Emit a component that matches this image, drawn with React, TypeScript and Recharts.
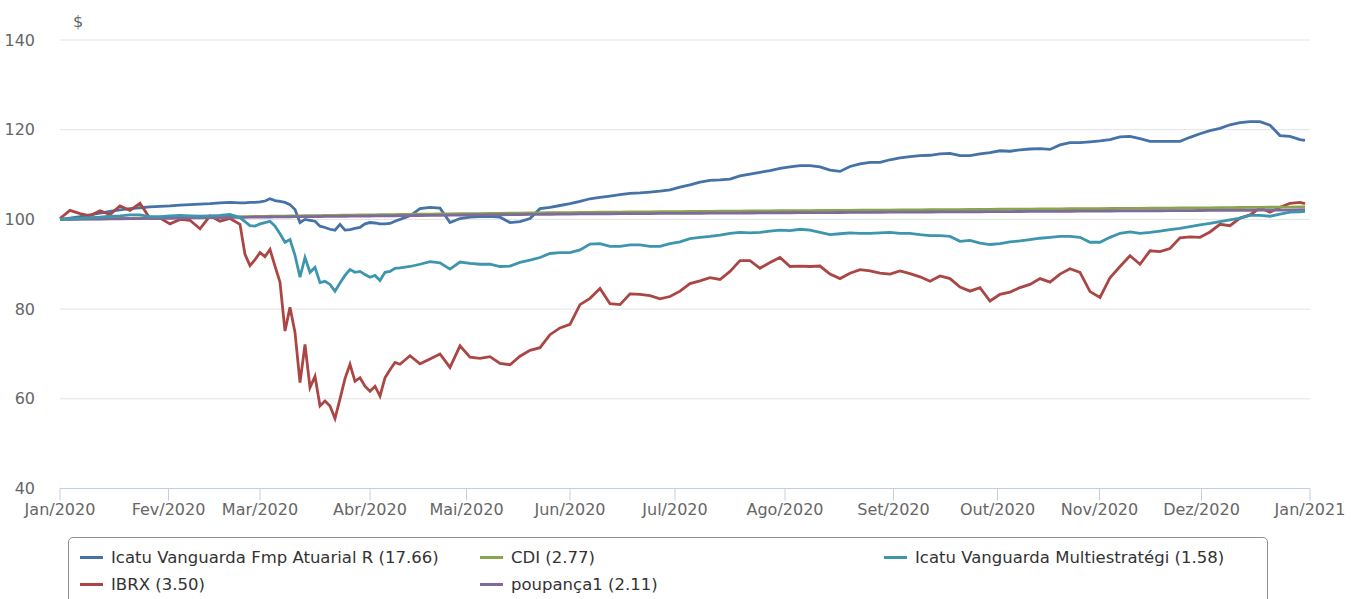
import React from "react";
import { LineChart, Line, XAxis, YAxis, CartesianGrid } from "recharts";

// eixo ordinal: posição = dia útil do ano (2020)
const dias = [
  0, 2, 4, 6, 8, 10, 12, 14, 16, 18, 20, 22, 24, 26, 28, 30, 32, 34,
  36, 37, 38, 39, 40, 41, 42, 43, 44, 45, 46, 47, 48, 49, 50, 51, 52, 53, 54, 55, 56, 57, 58, 59, 60, 61, 62, 63, 64, 65, 66, 67, 68,
  70, 72, 74, 76, 78, 80, 82, 84, 86, 88, 90, 92, 94, 96, 98, 100, 102, 104, 106, 108,
  110, 112, 114, 116, 118, 120, 122, 124, 126, 128, 130, 132, 134, 136, 138, 140, 142, 144, 146, 148,
  150, 152, 154, 156, 158, 160, 162, 164, 166, 168, 170, 172, 174, 176, 178, 180, 182, 184, 186, 188,
  190, 192, 194, 196, 198, 200, 202, 204, 206, 208, 210, 212, 214, 216, 218, 220, 222, 224, 226, 228,
  230, 232, 234, 236, 238, 240, 242, 244, 246, 248, 249,
];

const atuarial = [
  100.0, 100.3, 100.6, 101.0, 101.4, 101.8, 102.1, 102.4, 102.6, 102.8, 102.9, 103.0, 103.2, 103.3, 103.4, 103.5, 103.7, 103.8,
  103.7, 103.7, 103.8, 103.8, 103.9, 104.1, 104.6, 104.2, 104.0, 103.8, 103.3, 102.2, 99.3, 100.0, 99.8, 99.6, 98.5, 98.2, 97.8,
  97.6, 98.9, 97.6, 97.7, 98.0, 98.2, 99.0, 99.3, 99.2, 99.0, 99.0, 99.1, 99.6, 100.0,
  100.8, 102.4, 102.7, 102.5, 99.3,
  100.2, 100.5, 100.6, 100.7, 100.5, 99.3, 99.5, 100.2, 102.4, 102.7,
  103.1, 103.5, 104.0, 104.6, 104.9, 105.2, 105.5, 105.8, 105.9, 106.1,
  106.3, 106.6, 107.2, 107.7, 108.3, 108.7, 108.8, 109.0, 109.7, 110.1,
  110.5, 110.9, 111.4, 111.7, 112.0, 112.0, 111.7, 111.0, 110.7, 111.8,
  112.4, 112.7, 112.7, 113.3, 113.7, 114.0, 114.2, 114.3, 114.6, 114.7,
  114.2, 114.2, 114.6, 114.9, 115.3, 115.2, 115.5, 115.7, 115.8, 115.6,
  116.6, 117.1, 117.1, 117.3, 117.5, 117.8, 118.4, 118.5, 118.0, 117.4,
  117.4, 117.4, 117.4, 118.3, 119.1, 119.8, 120.3, 121.1, 121.6, 121.8,
  121.8, 121.0, 118.7, 118.5, 117.8, 117.6,
];

const ibrx = [
  100.2, 102.0, 101.3, 100.8, 101.9, 101.1, 103.0, 102.0, 103.6, 100.2, 100.3, 99.0, 100.0, 99.8, 97.9, 100.8, 99.6, 100.2,
  98.9, 92.2, 89.7, 91.0, 92.6, 91.7, 93.3, 89.6, 86.0, 75.1, 80.4, 74.8, 63.6, 72.1, 62.5, 65.0, 58.4, 59.5, 58.4,
  55.6, 60.0, 64.5, 67.7, 63.9, 64.7, 62.8, 61.7, 62.8, 60.6, 64.7, 66.5, 68.1, 67.7,
  69.6, 67.8, 68.9, 70.0, 67.0,
  71.8, 69.3, 69.0, 69.4, 67.9, 67.6, 69.5, 70.8, 71.4, 74.3,
  75.8, 76.6, 81.0, 82.4, 84.6, 81.2, 81.0, 83.4, 83.3, 83.0,
  82.3, 82.8, 84.0, 85.7, 86.3, 87.0, 86.6, 88.4, 90.8, 90.8,
  89.1, 90.4, 91.5, 89.5, 89.6, 89.5, 89.6, 87.8, 86.8, 88.0,
  88.8, 88.5, 88.0, 87.8, 88.5, 87.9, 87.2, 86.2, 87.4, 86.8,
  84.9, 84.0, 84.8, 81.8, 83.3, 83.8, 84.8, 85.5, 86.8, 86.0,
  87.8, 89.0, 88.2, 83.9, 82.6, 87.0, 89.5, 91.9, 90.0, 93.0,
  92.8, 93.5, 95.9, 96.1, 96.0, 97.2, 98.9, 98.6, 100.3, 101.0,
  102.6, 101.6, 102.7, 103.6, 103.8, 103.5,
];

const cdi = [
  100.0, 100.03, 100.07, 100.1, 100.14, 100.17, 100.21, 100.24, 100.28, 100.31, 100.35, 100.38, 100.41, 100.44, 100.48, 100.51, 100.54, 100.57,
  100.61, 100.62, 100.64, 100.66, 100.67, 100.69, 100.7, 100.72, 100.73, 100.75, 100.76, 100.78, 100.79, 100.81, 100.82, 100.84, 100.85,
  100.87, 100.88, 100.9, 100.92, 100.93, 100.95, 100.96, 100.98, 100.99, 101.01, 101.02, 101.04, 101.05, 101.06, 101.08, 101.09,
  101.12, 101.15, 101.18, 101.21, 101.23,
  101.26, 101.29, 101.31, 101.34, 101.36, 101.39, 101.41, 101.43, 101.46, 101.48,
  101.51, 101.53, 101.55, 101.57, 101.59, 101.61, 101.63, 101.65, 101.67, 101.69,
  101.71, 101.73, 101.75, 101.77, 101.78, 101.8, 101.82, 101.84, 101.85, 101.87,
  101.89, 101.91, 101.93, 101.94, 101.96, 101.97, 101.99, 102.0, 102.02, 102.03,
  102.05, 102.06, 102.08, 102.09, 102.11, 102.12, 102.14, 102.15, 102.17, 102.18,
  102.2, 102.21, 102.23, 102.24, 102.26, 102.28, 102.29, 102.31, 102.32, 102.34,
  102.35, 102.37, 102.38, 102.4, 102.42, 102.43, 102.45, 102.46, 102.48, 102.49,
  102.51, 102.52, 102.54, 102.55, 102.57, 102.59, 102.61, 102.63, 102.65, 102.67,
  102.69, 102.71, 102.73, 102.75, 102.76, 102.77,
];

const poupanca = [
  100.0, 100.02, 100.05, 100.07, 100.09, 100.12, 100.14, 100.17, 100.19, 100.21, 100.24, 100.26, 100.29, 100.32, 100.35, 100.38, 100.4, 100.43,
  100.46, 100.47, 100.49, 100.5, 100.52, 100.53, 100.54, 100.55, 100.56, 100.57, 100.58, 100.6, 100.61, 100.62, 100.63, 100.64, 100.65,
  100.66, 100.67, 100.68, 100.69, 100.7, 100.72, 100.73, 100.74, 100.75, 100.76, 100.77, 100.78, 100.79, 100.8, 100.81, 100.83,
  100.85, 100.87, 100.89, 100.91, 100.94,
  100.96, 100.98, 101.0, 101.02, 101.04, 101.06, 101.08, 101.11, 101.13, 101.15,
  101.17, 101.19, 101.21, 101.22, 101.24, 101.25, 101.27, 101.28, 101.3, 101.31,
  101.33, 101.34, 101.35, 101.36, 101.37, 101.38, 101.4, 101.41, 101.42, 101.43,
  101.44, 101.45, 101.47, 101.48, 101.49, 101.5, 101.52, 101.53, 101.54, 101.55,
  101.56, 101.58, 101.59, 101.6, 101.61, 101.62, 101.63, 101.65, 101.66, 101.67,
  101.68, 101.7, 101.71, 101.72, 101.74, 101.75, 101.76, 101.77, 101.78, 101.8,
  101.81, 101.82, 101.83, 101.84, 101.86, 101.87, 101.88, 101.89, 101.9, 101.92,
  101.93, 101.94, 101.95, 101.96, 101.98, 101.99, 102.0, 102.02, 102.03, 102.04,
  102.06, 102.07, 102.08, 102.09, 102.1, 102.11,
];

const multiestrategia = [
  100.0, 100.1, 100.2, 100.4, 100.5, 100.7, 100.8, 101.0, 101.0, 100.6, 100.6, 100.8, 100.9, 100.8, 100.7, 100.8, 100.9, 101.1,
  100.4, 99.5, 98.6, 98.5, 99.0, 99.3, 99.6, 98.5, 96.8, 94.9, 95.5, 92.0, 87.1, 91.5, 88.2, 89.3, 85.9, 86.2, 85.5,
  84.0, 85.8, 87.5, 88.8, 88.2, 88.4, 87.7, 87.1, 87.5, 86.4, 88.2, 88.4, 89.1, 89.2,
  89.5, 90.0, 90.6, 90.3, 88.9,
  90.5, 90.2, 90.0, 90.0, 89.5, 89.6, 90.4, 90.9, 91.5, 92.4,
  92.6, 92.6, 93.2, 94.5, 94.6, 94.0, 94.0, 94.3, 94.3, 94.0,
  94.0, 94.6, 95.0, 95.7, 96.0, 96.2, 96.5, 96.9, 97.1, 97.0,
  97.1, 97.4, 97.6, 97.5, 97.8, 97.6, 97.1, 96.6, 96.8, 97.0,
  96.9, 96.9, 97.0, 97.1, 96.9, 96.9, 96.6, 96.4, 96.4, 96.2,
  95.1, 95.3, 94.7, 94.4, 94.6, 95.0, 95.2, 95.5, 95.8, 96.0,
  96.2, 96.2, 96.0, 94.9, 94.9, 96.0, 96.9, 97.2, 96.9, 97.1,
  97.4, 97.7, 98.0, 98.4, 98.8, 99.1, 99.5, 99.9, 100.3, 100.9,
  100.9, 100.7, 101.2, 101.6, 101.7, 101.8,
];

const posicoesMeses = [0, 21.7, 40, 62, 81.3, 102, 123, 145, 166.7, 187.5, 207.9, 228.3, 250];
const rotulosMeses = [
  "Jan/2020", "Fev/2020", "Mar/2020", "Abr/2020", "Mai/2020", "Jun/2020", "Jul/2020",
  "Ago/2020", "Set/2020", "Out/2020", "Nov/2020", "Dez/2020", "Jan/2021",
];
const ticksY = [40, 60, 80, 100, 120, 140];

const nomes = [
  "Icatu Vanguarda Fmp Atuarial R",
  "CDI",
  "Icatu Vanguarda Multiestratégi",
  "IBRX",
  "poupança1",
];
const retornos = ["17.66", "2.77", "1.58", "3.50", "2.11"];
const cores = ["#4572A7", "#89A54E", "#3D96AE", "#AA4643", "#80699B"];

const FONTE = '"DejaVu Sans", Verdana, sans-serif';

export default function App() {
  const data = dias.map((d, i) => ({
    dia: d,
    atuarial: atuarial[i],
    ibrx: ibrx[i],
    cdi: cdi[i],
    poupanca: poupanca[i],
    multi: multiestrategia[i],
  }));

  const colunas = [11, 411, 815];

  return (
    <div
      style={{
        position: "fixed",
        left: 0,
        top: 0,
        width: 1351,
        height: 599,
        overflow: "hidden",
        background: "#fff",
        fontFamily: FONTE,
      }}
    >
      <div style={{ position: "absolute", left: 73, top: 12, fontSize: 16, lineHeight: "19px", color: "#666" }}>$</div>
      <LineChart
        width={1351}
        height={530}
        data={data}
        margin={{ top: 40, right: 41, bottom: 11.5, left: 0 }}
        style={{ fontFamily: FONTE }}
      >
        <CartesianGrid vertical={false} stroke="#e3e3e3" />
        <XAxis
          type="number"
          dataKey="dia"
          domain={[0, 250]}
          ticks={posicoesMeses}
          interval={0}
          tickFormatter={(v) => rotulosMeses[posicoesMeses.indexOf(v)]}
          stroke="#C0D0E0"
          tickSize={12}
          tickMargin={3}
          height={30}
          tick={{ fill: "#666", fontSize: 16 }}
        />
        <YAxis
          domain={[40, 140]}
          ticks={ticksY}
          width={60}
          axisLine={false}
          tickLine={false}
          tickSize={0}
          tickMargin={25}
          tick={{ fill: "#666", fontSize: 16 }}
        />
        <Line dataKey="atuarial" stroke={cores[0]} strokeWidth={2.8} dot={false} activeDot={false} isAnimationActive={false} />
        <Line dataKey="ibrx" stroke={cores[3]} strokeWidth={2.8} dot={false} activeDot={false} isAnimationActive={false} />
        <Line dataKey="cdi" stroke={cores[1]} strokeWidth={2.8} dot={false} activeDot={false} isAnimationActive={false} />
        <Line dataKey="poupanca" stroke={cores[4]} strokeWidth={2.8} dot={false} activeDot={false} isAnimationActive={false} />
        <Line dataKey="multi" stroke={cores[2]} strokeWidth={2.8} dot={false} activeDot={false} isAnimationActive={false} />
      </LineChart>

      <div
        style={{
          position: "absolute",
          left: 68,
          top: 537,
          width: 1198,
          height: 80,
          border: "1px solid #909090",
          borderRadius: 5,
        }}
      >
        {nomes.map((nome, i) => (
          <div
            key={nome}
            style={{
              position: "absolute",
              left: colunas[i % 3],
              top: i < 3 ? 9 : 36,
              height: 20,
              display: "flex",
              alignItems: "center",
              whiteSpace: "nowrap",
              fontSize: 16.5,
              color: "#333",
            }}
          >
            <span style={{ display: "inline-block", width: 23, height: 3, background: cores[i], marginRight: 8 }} />
            <span>
              {nome} ({retornos[i]})
            </span>
          </div>
        ))}
      </div>
    </div>
  );
}
